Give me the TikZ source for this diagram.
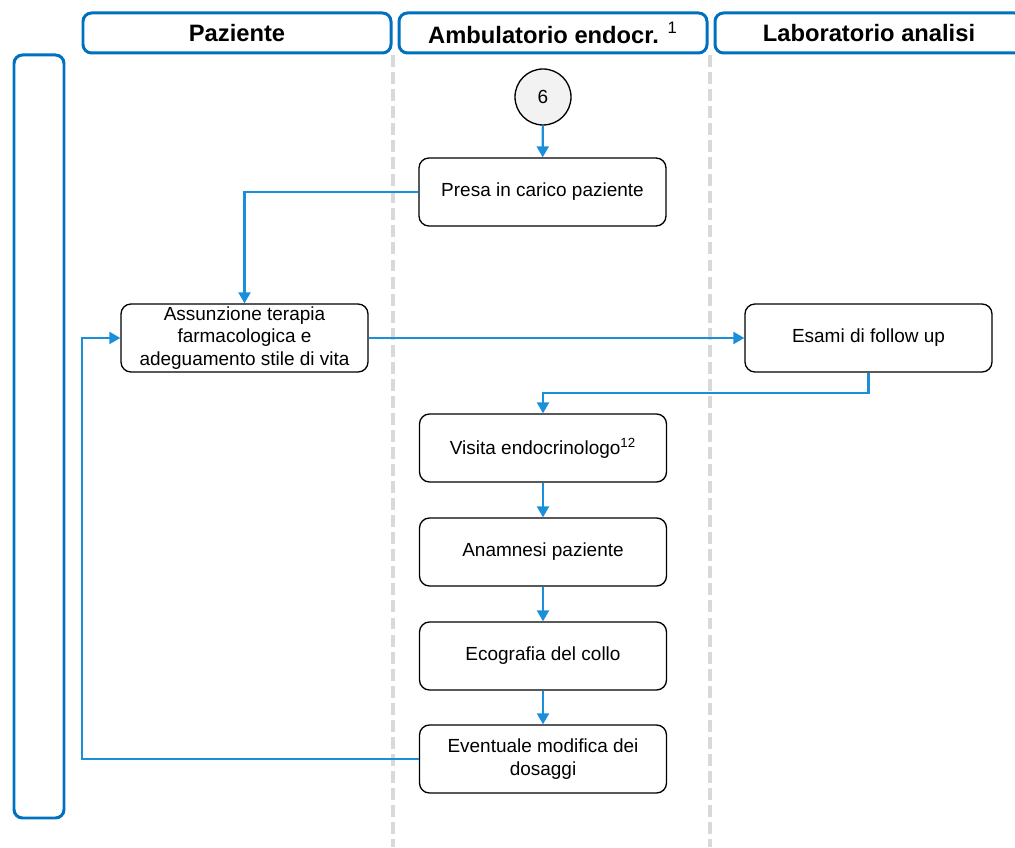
\documentclass[tikz,border=0pt]{standalone}
\usepackage{fontspec}
\setmainfont{Liberation Sans}
\usetikzlibrary{arrows.meta}
\definecolor{laneblue}{HTML}{0070C0}
\definecolor{flowblue}{HTML}{1A8FDA}
\definecolor{sepgray}{HTML}{D9D9D9}
\definecolor{stepfill}{HTML}{F2F2F2}

\begin{document}
\begin{tikzpicture}[
  lane/.style={draw=laneblue,line width=1.7pt,rounded corners=0.17cm,minimum width=6.16cm,minimum height=0.8cm,font=\fontsize{13.5}{16}\selectfont\bfseries},
  box/.style={draw,line width=0.75pt,rounded corners=0.2cm,minimum width=4.94cm,minimum height=1.36cm,inner ysep=0.5pt,align=center,font=\fontsize{10.8}{12.8}\selectfont},
  flow/.style={-{Triangle[length=0.22cm,width=0.24cm]},flowblue,line width=1.25pt},
  sep/.style={sepgray,line width=2pt,dash pattern=on 6.8pt off 2.9pt}
]
\useasboundingbox (0,0) rectangle (20.3,16.94);
%\draw[gray,very thin] (0,0) grid (21,17);

% lanes
\node[lane] (paz) at (4.74,16.28) {Paziente};
\node[lane] (amb) at (11.06,16.28) {Ambulatorio endocr. \textsuperscript{\mdseries 1}};
\node[lane] (lab) at (17.38,16.28) {Laboratorio analisi};
\node[draw=laneblue,line width=1.7pt,rounded corners=0.17cm,minimum width=1cm,minimum height=15.26cm] (side) at (0.78,8.21) {};

\draw[sep] (7.86,15.84)--(7.86,0);
\draw[sep] (14.2,15.84)--(14.2,0);

% steps
\node[circle,draw,fill=stepfill,line width=0.75pt,minimum size=1.12cm,font=\fontsize{10.8}{12.6}\selectfont] (c6) at (10.86,15.0) {6};
\node[box] (presa) at (10.85,13.1) {Presa in carico paziente};
\node[box] (assunz) at (4.89,10.18) {Assunzione terapia\\farmacologica e\\adeguamento stile di vita};
\node[box] (esami) at (17.37,10.18) {Esami di follow up};
\node[box] (visita) at (10.86,7.98) {Visita endocrinologo\textsuperscript{12}};
\node[box] (anamn) at (10.86,5.9) {Anamnesi paziente};
\node[box] (ecogr) at (10.86,3.82) {Ecografia del collo};
\node[box] (event) at (10.86,1.76) {Eventuale modifica dei\\dosaggi};

\coordinate (back) at (17.37,9.08);
\coordinate (ret) at (1.64,1.76);

% flow
\draw[flow] (c6)--(presa);
\draw[flow] (presa.west) -| (assunz.north);
\draw[flow] (assunz.east)--(esami.west);
\draw[flow] (esami.south)--(back) -| (visita.north);
\draw[flow] (visita)--(anamn);
\draw[flow] (anamn)--(ecogr);
\draw[flow] (ecogr)--(event);
\draw[flow] (event.west)--(ret) |- (assunz.west);

\end{tikzpicture}
\end{document}
